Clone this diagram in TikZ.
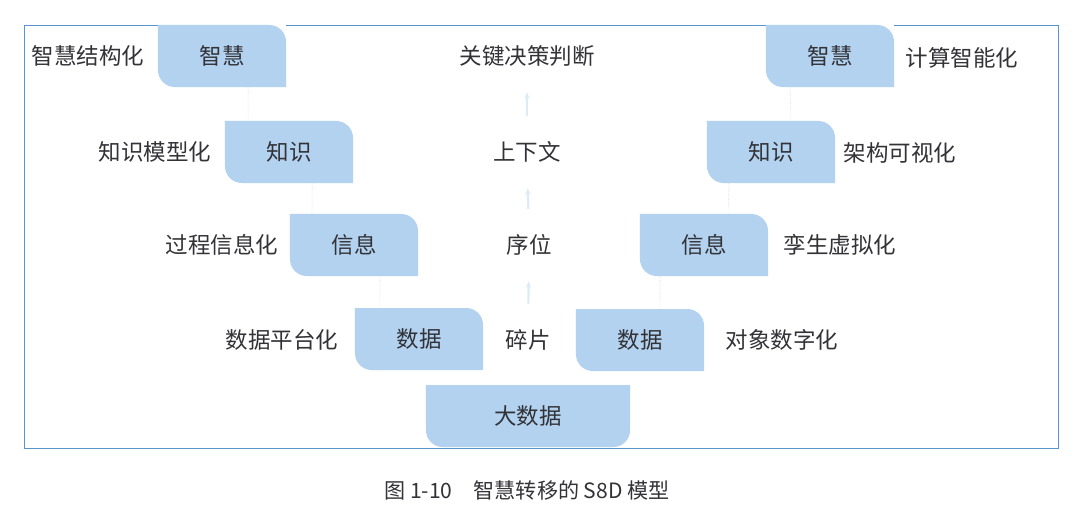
\documentclass[tikz,border=0pt]{standalone}
\usepackage{fontspec}
\setmainfont{Noto Sans CJK SC}
\usetikzlibrary{arrows.meta}
\definecolor{kuailan}{RGB}{178,210,240}
\definecolor{kuanglan}{RGB}{85,150,208}
\definecolor{ziyan}{RGB}{50,50,55}

\begin{document}
\begin{tikzpicture}[
  x=0.025cm, y=-0.025cm,
  every node/.style={font=\fontsize{16}{18}\selectfont, text=ziyan},
  kuai/.style={minimum width=3.2cm, minimum height=1.55cm, inner sep=0pt, fill=white},
  zhekuai/.style={kuai, path picture={
    \fill[kuailan] (path picture bounding box.north west)
      -- ([xshift=-0.42cm]path picture bounding box.north east)
      arc[start angle=90, end angle=0, radius=0.42cm]
      -- (path picture bounding box.south east)
      -- ([xshift=0.42cm]path picture bounding box.south west)
      arc[start angle=270, end angle=180, radius=0.42cm] -- cycle;}},
  dikuai/.style={kuai, minimum width=5.1cm, path picture={
    \fill[kuailan] (path picture bounding box.north west)
      -- (path picture bounding box.north east)
      -- ([yshift=0.42cm]path picture bounding box.south east)
      arc[start angle=0, end angle=-90, radius=0.42cm]
      -- ([xshift=0.42cm]path picture bounding box.south west)
      arc[start angle=270, end angle=180, radius=0.42cm] -- cycle;}},
  biaoqian/.style={inner sep=1pt},
  xuxian/.style={densely dotted, gray!35, thin},
  jiantou/.style={-{Stealth[length=5pt]}, kuailan!45, line width=1.5pt,
    shorten <=0.6cm, shorten >=0.6cm}
]
\useasboundingbox (0,0) rectangle (1078,515);
\draw[kuanglan, line width=0.6pt] (24,25) rectangle (1058,448);

% left side
\node[zhekuai] (zhL) at (222,56) {智慧};
\node[zhekuai] (zsL) at (289,152) {知识};
\node[zhekuai] (xxL) at (354,245) {信息};
\node[zhekuai] (sjL) at (419,339) {数据};
% bottom
\node[dikuai] (dsj) at (528,416) {大数据};
% right side
\node[zhekuai] (sjR) at (640,340) {数据};
\node[zhekuai] (xxR) at (704,245) {信息};
\node[zhekuai] (zsR) at (771,152) {知识};
\node[zhekuai] (zhR) at (830,56) {智慧};

% labels
\node[biaoqian] (lb1) at (88,56) {智慧结构化};
\node[biaoqian] (lb2) at (155,152) {知识模型化};
\node[biaoqian] (lb3) at (222,245) {过程信息化};
\node[biaoqian] (lb4) at (282,340) {数据平台化};
\node[biaoqian] (md1) at (527,56) {关键决策判断};
\node[biaoqian] (md2) at (527,152) {上下文};
\node[biaoqian] (md3) at (529,245) {序位};
\node[biaoqian] (md4) at (528,340) {碎片};
\node[biaoqian] (rb1) at (962,58) {计算智能化};
\node[biaoqian] (rb2) at (900,153) {架构可视化};
\node[biaoqian] (rb3) at (840,245) {孪生虚拟化};
\node[biaoqian] (rb4) at (782,340) {对象数字化};

% faint links
\draw[xuxian] ([xshift=0.65cm]zhL.south) -- ([xshift=-1.02cm]zsL.north);
\draw[xuxian] ([xshift=0.58cm]zsL.south) -- ([xshift=-1.05cm]xxL.north);
\draw[xuxian] ([xshift=0.65cm]xxL.south) -- ([xshift=-0.98cm]sjL.north);
\draw[xuxian] ([xshift=-1.1cm]xxR.south) -- ([xshift=0.5cm]sjR.north);
\draw[xuxian] ([xshift=-1.05cm]zsR.south) -- ([xshift=0.6cm]xxR.north);
\draw[xuxian] ([xshift=-1cm]zhR.south) -- ([xshift=0.5cm]zsR.north);
\draw[jiantou] (md4.north) -- (md3.south);
\draw[jiantou] (md3.north) -- (md2.south);
\draw[jiantou] (md2.north) -- (md1.south);

\node[font=\fontsize{15}{17}\selectfont] (tu) at (527,490) {图 1-10\quad 智慧转移的 S8D 模型};
\end{tikzpicture}
\end{document}
